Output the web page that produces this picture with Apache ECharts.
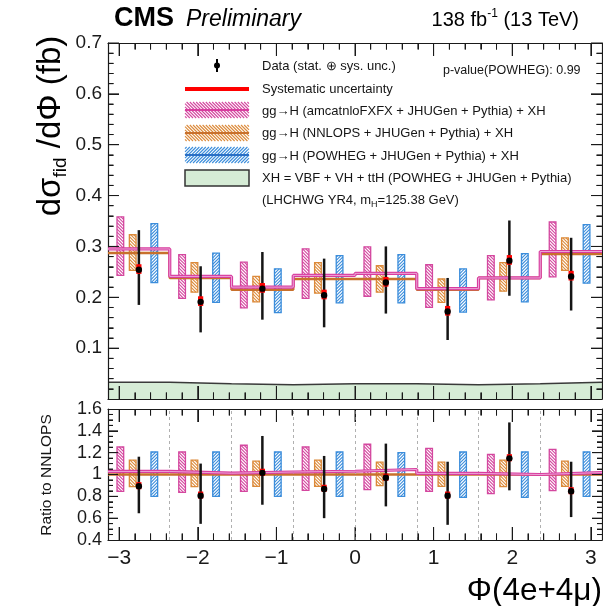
<!DOCTYPE html>
<html><head><meta charset="utf-8">
<script src="https://cdn.jsdelivr.net/npm/echarts@6/dist/echarts.min.js"></script>
<style>html,body{margin:0;padding:0;background:#fff}#c{width:603px;height:606px}</style>
</head><body><div id="c"></div>
<script>
const PI = Math.PI;
// bin edges of Phi (8 bins from -pi to pi)
const binEdges = [-PI, -0.75*PI, -0.5*PI, -0.25*PI, 0, 0.25*PI, 0.5*PI, 0.75*PI, PI];
const xTickLabels = [-3, -2, -1, 0, 1, 2, 3];
const yTopTicks = [0.1, 0.2, 0.3, 0.4, 0.5, 0.6, 0.7];
const yRatioTicks = [0.4, 0.6, 0.8, 1.0, 1.2, 1.4, 1.6];

// ---- top panel: dsigma/dPhi (fb)
const dataVal = [0.254, 0.191, 0.217, 0.204, 0.229, 0.172, 0.272, 0.241];
const dataErrLo = [0.185, 0.131, 0.156, 0.141, 0.168, 0.116, 0.203, 0.174];
const dataErrHi = [0.332, 0.261, 0.289, 0.276, 0.300, 0.238, 0.351, 0.317];
const dataSysLo = [0.246, 0.183, 0.209, 0.196, 0.221, 0.164, 0.264, 0.233];
const dataSysHi = [0.265, 0.202, 0.228, 0.215, 0.240, 0.183, 0.283, 0.252];
const amcVal = [0.295, 0.241, 0.220, 0.243, 0.247, 0.217, 0.238, 0.290];
const amcLo = [0.243, 0.198, 0.179, 0.198, 0.202, 0.180, 0.195, 0.240];
const amcHi = [0.358, 0.284, 0.269, 0.295, 0.299, 0.264, 0.282, 0.348];
const nnlVal = [0.287, 0.238, 0.215, 0.236, 0.236, 0.215, 0.238, 0.285];
const nnlLo = [0.253, 0.210, 0.191, 0.208, 0.210, 0.190, 0.212, 0.253];
const nnlHi = [0.323, 0.268, 0.241, 0.268, 0.262, 0.236, 0.268, 0.317];
const powLo = [0.229, 0.190, 0.170, 0.189, 0.189, 0.171, 0.191, 0.228];
const powHi = [0.345, 0.287, 0.256, 0.282, 0.284, 0.256, 0.286, 0.343];
const xhVal = [0.033, 0.030, 0.028, 0.030, 0.030, 0.028, 0.030, 0.033];

// ---- bottom panel: ratio to NNLOPS
const rData = [0.892, 0.806, 1.015, 0.868, 0.970, 0.806, 1.148, 0.846];
const rErrLo = [0.645, 0.548, 0.723, 0.600, 0.708, 0.539, 0.855, 0.610];
const rErrHi = [1.163, 1.100, 1.353, 1.170, 1.283, 1.117, 1.477, 1.117];
const rSysLo = [0.865, 0.779, 0.988, 0.841, 0.943, 0.779, 1.121, 0.819];
const rSysHi = [0.930, 0.844, 1.053, 0.906, 1.008, 0.844, 1.186, 0.884];
const rAmc = [1.028, 1.012, 1.023, 1.030, 1.046, 1.010, 1.000, 1.018];
const rAmcLo = [0.846, 0.836, 0.846, 0.855, 0.862, 0.846, 0.825, 0.852];
const rAmcHi = [1.252, 1.206, 1.268, 1.252, 1.277, 1.240, 1.185, 1.230];
const rNnl = [1, 1, 1, 1, 1, 1, 1, 1];
const rNnlLo = [0.889, 0.889, 0.892, 0.892, 0.898, 0.892, 0.889, 0.892];
const rNnlHi = [1.132, 1.132, 1.123, 1.132, 1.114, 1.114, 1.132, 1.123];
const rPowLo = [0.799, 0.799, 0.799, 0.799, 0.800, 0.790, 0.790, 0.799];
const rPowHi = [1.206, 1.206, 1.206, 1.206, 1.200, 1.206, 1.206, 1.206];

// ---- styles
const FONT = 'Liberation Sans, Arial, Helvetica, sans-serif';
const C_PINK = '#d4479f', C_PINK_LINE = '#d83c9e';
const C_ORANGE = '#dc8a3a', C_ORANGE_LINE = '#c8702c';
const C_BLUE = '#3b8ddb';
const C_GREEN = '#d6ecd6';
const C_AX = '#1a1a1a';
const BOXW = 0.085;
const OFF = {amc: 0.2, nnl: 0.4, data: 0.5, pow: 0.75};

function minorList(lo, hi, step, majorStep) {
  const out = [];
  const n0 = Math.ceil(lo / step - 1e-9), n1 = Math.floor(hi / step + 1e-9);
  for (let k = n0; k <= n1; k++) {
    const v = +(k * step).toFixed(4);
    const r = v / majorStep;
    if (Math.abs(r - Math.round(r)) > 1e-6 && v > lo && v < hi) out.push(v);
  }
  return out;
}
const minorX = minorList(-PI, PI, 0.2, 1);
const minorYTop = minorList(0, 0.7, 0.02, 0.1);
const minorYRatio = minorList(0.4, 1.6, 0.05, 0.2);

function binPos(i, f) { return binEdges[i] + f * (binEdges[i + 1] - binEdges[i]); }

function hatch(x0, y0, w, h, sp, dir) {
  const segs = [];
  if (dir === 'back') {
    for (let k = -h + sp / 2; k < w; k += sp) {
      let sx, sy;
      if (k >= 0) { sx = x0 + k; sy = y0; } else { sx = x0; sy = y0 - k; }
      const t = Math.min(x0 + w - sx, y0 + h - sy);
      if (t > 0) segs.push([sx, sy, sx + t, sy + t]);
    }
  } else {
    for (let k = sp / 2; k < w + h; k += sp) {
      let sx, sy;
      if (k <= w) { sx = x0 + k; sy = y0; } else { sx = x0 + w; sy = y0 + k - w; }
      const t = Math.min(sx - x0, y0 + h - sy);
      if (t > 0) segs.push([sx, sy, sx - t, sy + t]);
    }
  }
  return segs;
}
function hatchEls(x0, y0, w, h, sp, dir, color, lw) {
  return hatch(x0, y0, w, h, sp, dir).map(s => ({
    type: 'line', shape: {x1: s[0], y1: s[1], x2: s[2], y2: s[3]},
    style: {stroke: color, lineWidth: lw}
  }));
}

function boxSeries(lo, hi, frac, color, dir, xi, yi) {
  return {
    type: 'custom', xAxisIndex: xi, yAxisIndex: yi, z: 3, clip: false,
    data: lo.map((l, i) => [binPos(i, frac), l, hi[i]]),
    encode: {x: 0, y: [1, 2]},
    renderItem: (params, api) => {
      const x = api.value(0);
      const p1 = api.coord([x - BOXW / 2, api.value(2)]);
      const p2 = api.coord([x + BOXW / 2, api.value(1)]);
      const rx = p1[0], ry = p1[1], rw = p2[0] - p1[0], rh = p2[1] - p1[1];
      const ch = hatchEls(rx, ry, rw, rh, 3.2, dir, color, 1.1);
      ch.push({type: 'rect', shape: {x: rx, y: ry, width: rw, height: rh},
        style: {fill: 'none', stroke: color, lineWidth: 1.3}});
      return {type: 'group', children: ch};
    }
  };
}

// inside ticks for all four sides of a panel, placed through the axes' scales
function tickEls(api, T) {
  const st = {stroke: C_AX, lineWidth: 1};
  const els = [];
  const xt = xTickLabels.map(v => [v, T.L.xMaj]).concat(minorX.map(v => [v, T.L.xMin]));
  xt.forEach(([v, len]) => {
    const b = api.coord([v, T.yLo]), t = api.coord([v, T.yHi]);
    els.push({type: 'line', shape: {x1: b[0], y1: b[1], x2: b[0], y2: b[1] - len}, style: st});
    els.push({type: 'line', shape: {x1: t[0], y1: t[1], x2: t[0], y2: t[1] + len}, style: st});
  });
  const yt = T.yMaj.map(v => [v, T.L.yMaj]).concat(T.yMin.map(v => [v, T.L.yMin]));
  yt.forEach(([v, len]) => {
    const l = api.coord([-PI, v]), r = api.coord([PI, v]);
    els.push({type: 'line', shape: {x1: l[0], y1: l[1], x2: l[0] + len, y2: l[1]}, style: st});
    els.push({type: 'line', shape: {x1: r[0], y1: r[1], x2: r[0] - len, y2: r[1]}, style: st});
  });
  return els;
}

function dataSeries(v, lo, hi, slo, shi, xi, yi, T) {
  return {
    type: 'custom', xAxisIndex: xi, yAxisIndex: yi, z: 6, clip: false,
    data: v.map((d, i) => [binPos(i, OFF.data), d, lo[i], hi[i], slo[i], shi[i]]),
    encode: {x: 0, y: [2, 3]},
    renderItem: (params, api) => {
      const x = api.value(0);
      const c = api.coord([x, api.value(1)]);
      const a = api.coord([x, api.value(2)]);
      const b = api.coord([x, api.value(3)]);
      const s1 = api.coord([x, api.value(4)]);
      const s2 = api.coord([x, api.value(5)]);
      let ch = [
        {type: 'line', shape: {x1: a[0], y1: a[1], x2: b[0], y2: b[1]}, style: {stroke: '#151515', lineWidth: 2.5}},
        {type: 'rect', shape: {x: c[0] - 2.6, y: s2[1], width: 5.2, height: s1[1] - s2[1]}, style: {fill: '#ff0000'}},
        {type: 'circle', shape: {cx: c[0], cy: c[1], r: 3.2}, style: {fill: '#000'}}
      ];
      if (params.dataIndex === 0) ch = ch.concat(tickEls(api, T));
      return {type: 'group', children: ch};
    }
  };
}

function stepData(vals) { return binEdges.map((e, i) => [e, vals[Math.min(i, vals.length - 1)]]); }
function stepSeries(vals, color, width, xi, yi, z, extra) {
  return Object.assign({
    type: 'line', step: 'end', xAxisIndex: xi, yAxisIndex: yi, z: z,
    symbol: 'none', data: stepData(vals), animation: false,
    lineStyle: {color: color, width: width}
  }, extra || {});
}

function ls() { return {color: C_AX, width: 1}; }
function xAx(grid, pos, major, labels, len) {
  return {
    type: 'value', gridIndex: grid, position: pos, min: -PI, max: PI,
    splitLine: {show: false},
    axisLine: {show: major, onZero: false, lineStyle: {color: C_AX, width: 1.2}},
    axisTick: {show: true, inside: true, length: len, customValues: major ? xTickLabels : minorX, lineStyle: ls()},
    axisLabel: labels ? {
      show: true, customValues: xTickLabels, fontSize: 21, margin: 8, color: C_AX, fontFamily: FONT,
      formatter: v => (v < 0 ? '\u2212' + (-v) : String(v))
    } : {show: false}
  };
}
function yAx(grid, pos, min, max, interval, split, labels, fs, lenMaj, lenMin) {
  return {
    type: 'value', gridIndex: grid, position: pos, min: min, max: max, interval: interval,
    splitLine: {show: false},
    axisLine: {show: true, onZero: false, lineStyle: {color: C_AX, width: 1.2}},
    axisTick: {show: true, inside: true, length: lenMaj, lineStyle: ls()},
    minorTick: {show: true, splitNumber: split, length: lenMin, lineStyle: ls()},
    axisLabel: labels ? {
      show: true, fontSize: fs, margin: 6, color: C_AX, fontFamily: FONT,
      formatter: v => {
        const m = labels.find(t => Math.abs(t - v) < 1e-6);
        return m === undefined ? '' : String(+m.toFixed(1));
      }
    } : {show: false}
  };
}

const innerEdges = binEdges.slice(1, -1);
const TOP_T = {yLo: 0, yHi: 0.7, yMaj: yTopTicks, yMin: minorYTop, L: {xMaj: 13, xMin: 6.5, yMaj: 11, yMin: 5.5}};
const BOT_T = {yLo: 0.4, yHi: 1.6, yMaj: yRatioTicks.slice(1, -1), yMin: minorYRatio, L: {xMaj: 13, xMin: 6.5, yMaj: 10, yMin: 5}};

const series = [
  // top panel
  stepSeries(xhVal, '#3a3a3a', 1.5, 0, 0, -1, {areaStyle: {color: C_GREEN, opacity: 1}}),
  boxSeries(amcLo, amcHi, OFF.amc, C_PINK, 'back', 0, 0),
  boxSeries(nnlLo, nnlHi, OFF.nnl, C_ORANGE, 'back', 0, 0),
  boxSeries(powLo, powHi, OFF.pow, C_BLUE, 'fwd', 0, 0),
  stepSeries(nnlVal, C_ORANGE_LINE, 2.5, 0, 0, 4),
  stepSeries(amcVal, C_PINK_LINE, 3.2, 0, 0, 5),
  stepSeries(amcVal, '#eeb0de', 0.9, 0, 0, 5),
  dataSeries(dataVal, dataErrLo, dataErrHi, dataSysLo, dataSysHi, 0, 0, TOP_T),
  // bottom panel
  boxSeries(rAmcLo, rAmcHi, OFF.amc, C_PINK, 'back', 4, 2),
  boxSeries(rNnlLo, rNnlHi, OFF.nnl, C_ORANGE, 'back', 4, 2),
  boxSeries(rPowLo, rPowHi, OFF.pow, C_BLUE, 'fwd', 4, 2),
  stepSeries(rNnl, C_ORANGE_LINE, 2.5, 4, 2, 4, {
    markLine: {silent: true, symbol: 'none', animation: false, label: {show: false},
      lineStyle: {type: [3, 3], color: '#b0b0b0', width: 1},
      data: innerEdges.map(e => ({xAxis: e}))}
  }),
  stepSeries(rAmc, C_PINK_LINE, 3.2, 4, 2, 5),
  stepSeries(rAmc, '#eeb0de', 0.9, 4, 2, 5),
  dataSeries(rData, rErrLo, rErrHi, rSysLo, rSysHi, 4, 2, BOT_T)
];

// legend graphics
const LX0 = 185, LX1 = 249, LW = LX1 - LX0;
const legendEls = [];
legendEls.push({type: 'line', shape: {x1: 217, y1: 59, x2: 217, y2: 72}, style: {stroke: '#000', lineWidth: 2}});
legendEls.push({type: 'circle', shape: {cx: 217, cy: 65.5, r: 3}, style: {fill: '#000'}});
legendEls.push({type: 'rect', shape: {x: LX0, y: 87, width: LW, height: 4}, style: {fill: '#ff0000'}});
function legHatch(yc, dir, color, lineColor) {
  const els = hatchEls(LX0, yc - 8, LW, 16, 3.2, dir, color, 1.1);
  els.push({type: 'line', shape: {x1: LX0, y1: yc, x2: LX1, y2: yc}, style: {stroke: lineColor, lineWidth: 2}});
  return els;
}
legendEls.push(...legHatch(110, 'back', C_PINK, C_PINK_LINE));
legendEls.push(...legHatch(133, 'back', C_ORANGE, C_ORANGE_LINE));
legendEls.push(...legHatch(155, 'fwd', C_BLUE, '#2a6fc4'));
legendEls.push({type: 'rect', shape: {x: LX0, y: 170, width: LW, height: 16}, style: {fill: C_GREEN, stroke: '#333', lineWidth: 1.5}});
function txt(x, y, text, fs, extra) {
  return {type: 'text', x: x, y: y, z: 100, style: Object.assign({text: text, fontSize: fs, fontFamily: FONT, fill: '#151515', align: 'left', verticalAlign: 'middle'}, extra || {})};
}
const legendTexts = [
  txt(262, 66, 'Data (stat. \u2295 sys. unc.)', 13),
  txt(262, 89, 'Systematic uncertainty', 13),
  txt(262, 111, 'gg\u2192H (amcatnloFXFX + JHUGen + Pythia) + XH', 13),
  txt(262, 133, 'gg\u2192H (NNLOPS + JHUGen + Pythia) + XH', 13),
  txt(262, 156, 'gg\u2192H (POWHEG + JHUGen + Pythia) + XH', 13),
  txt(262, 178, 'XH = VBF + VH + ttH (POWHEG + JHUGen + Pythia)', 13),
  txt(262, 200, '{n|(LHCHWG YR4, m}{s|H}{n|=125.38 GeV)}', 13, {rich: {
    n: {fontSize: 13, fontFamily: FONT, fill: '#151515', lineHeight: 18},
    s: {fontSize: 9, fontFamily: FONT, fill: '#151515', lineHeight: 9, verticalAlign: 'bottom'}}}),
  txt(443, 71, 'p-value(POWHEG): 0.99', 12.5)
];

const titles = [
  txt(114, 19, 'CMS', 27, {fontWeight: 'bold', fill: '#000'}),
  txt(186, 20, 'Preliminary', 23, {fontStyle: 'italic', fill: '#000'}),
  txt(579, 20, '{n|138 fb}{s|-1}{n| (13 TeV)}', 20, {align: 'right', rich: {
    n: {fontSize: 20, fontFamily: FONT, fill: '#000', lineHeight: 24},
    s: {fontSize: 12, fontFamily: FONT, fill: '#000', lineHeight: 8, verticalAlign: 'top'}}}),
  {type: 'text', x: 51, y: 126, rotation: PI / 2, z: 100, style: {
    text: '{m|d\u03c3}{s|fid}{m| /d\u03a6 (fb)}', align: 'center', verticalAlign: 'middle',
    rich: {m: {fontSize: 33, fontFamily: FONT, fill: '#000', lineHeight: 38},
           s: {fontSize: 19, fontFamily: FONT, fill: '#000', lineHeight: 15, verticalAlign: 'bottom'}}}},
  {type: 'text', x: 47, y: 475, rotation: PI / 2, z: 100, style: {
    text: 'Ratio to NNLOPS', fontSize: 15.5, fontFamily: FONT, fill: '#151515', align: 'center', verticalAlign: 'middle'}},
  txt(602, 591, '\u03a6(4e+4\u03bc)', 31.5, {align: 'right', fill: '#000'})
];

const chart = echarts.init(document.getElementById('c'));
chart.setOption({
  animation: false,
  grid: [
    {left: 108, right: 1, top: 43, height: 356},
    {left: 108, right: 1, top: 409, height: 131}
  ],
  xAxis: [
    xAx(0, 'bottom', true, false, 13), xAx(0, 'bottom', false, false, 6.5),
    xAx(0, 'top', true, false, 13), xAx(0, 'top', false, false, 6.5),
    xAx(1, 'bottom', true, true, 13), xAx(1, 'bottom', false, false, 6.5),
    xAx(1, 'top', true, false, 13), xAx(1, 'top', false, false, 6.5)
  ],
  yAxis: [
    yAx(0, 'left', 0, 0.7, 0.1, 5, yTopTicks, 19, 11, 5.5), yAx(0, 'right', 0, 0.7, 0.1, 5, null, 19, 11, 5.5),
    yAx(1, 'left', 0.4, 1.6, 0.2, 4, yRatioTicks, 18, 10, 5), yAx(1, 'right', 0.4, 1.6, 0.2, 4, null, 18, 10, 5)
  ],
  series: series
});
chart.setOption({graphic: [{type: 'group', children: legendEls.concat(legendTexts, titles)}]});
</script>
</body></html>
